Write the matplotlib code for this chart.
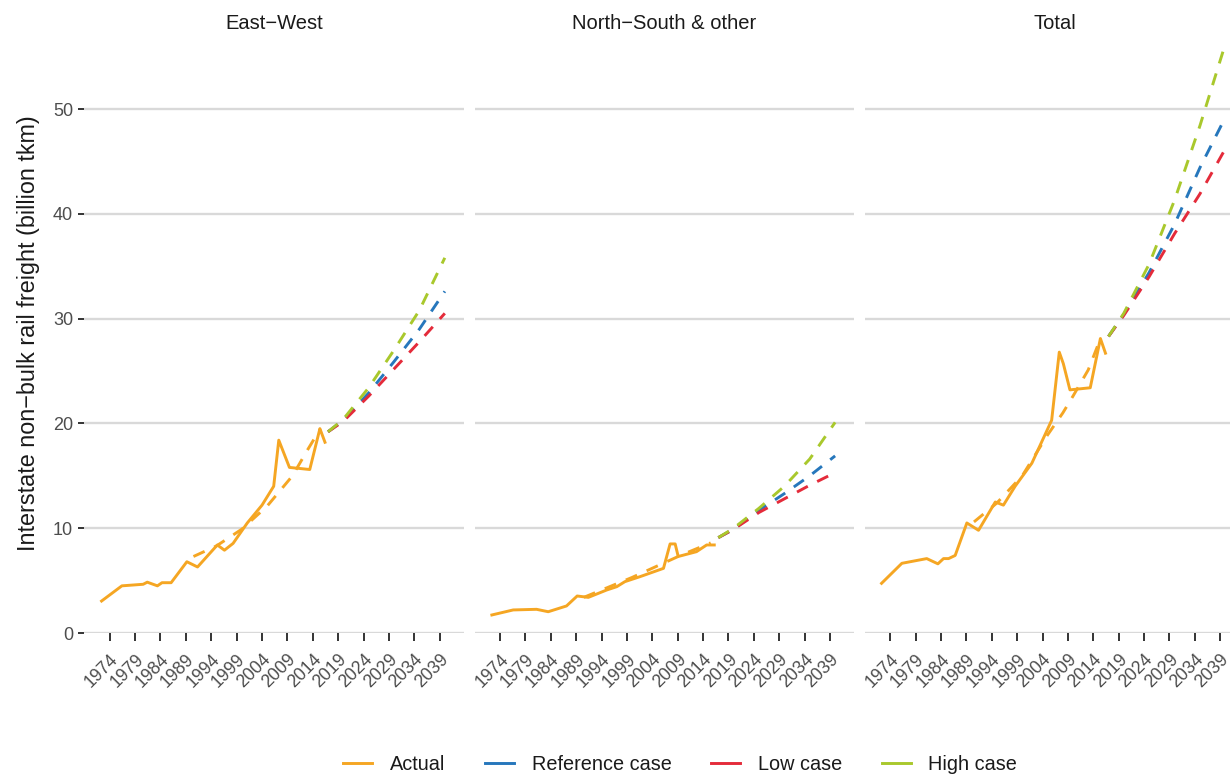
import matplotlib
matplotlib.use("Agg")
import matplotlib.pyplot as plt
from matplotlib.lines import Line2D

plt.rcParams['font.family'] = ['Liberation Sans', 'DejaVu Sans']

panels = ["East\u2212West", "North\u2212South & other", "Total"]
tick_years = list(range(1974, 2040, 5))
y_ticks = [0, 10, 20, 30, 40, 50]

# Recorded interstate non-bulk rail freight (billion tkm)
ew_years = [1972.4, 1976.4, 1980.6, 1981.4, 1983.4, 1984.3, 1986.1, 1989.2, 1991.3, 1995.2,
            1996.6, 1998.3, 2001.1, 2004.0, 2006.3, 2007.3, 2009.4, 2013.4, 2015.4, 2016.4]
ew_actual = [3.05, 4.5, 4.65, 4.85, 4.5, 4.8, 4.8, 6.8, 6.3, 8.4,
             7.9, 8.55, 10.5, 12.2, 14.0, 18.4, 15.8, 15.6, 19.5, 18.2]

ns_years = [1972.4, 1976.6, 1981.2, 1983.5, 1987.1, 1989.2, 1991.4, 1995.0, 1997.0, 1998.6,
            2001.6, 2006.2, 2007.5, 2008.5, 2009.1, 2012.7, 2014.7, 2016.2]
ns_actual = [1.72, 2.2, 2.26, 2.03, 2.58, 3.53, 3.4, 4.1, 4.42, 4.9,
             5.38, 6.17, 8.5, 8.5, 7.3, 7.76, 8.4, 8.4]

tot_years = [1972.3, 1976.3, 1981.2, 1983.4, 1984.5, 1985.5, 1986.8, 1989.1, 1991.4, 1994.7,
             1996.3, 1998.6, 2001.9, 2005.8, 2007.3, 2008.1, 2009.4, 2013.4, 2015.4, 2016.4]
tot_actual = [4.74, 6.65, 7.1, 6.6, 7.1, 7.1, 7.4, 10.5, 9.8, 12.5,
              12.2, 14.0, 16.2, 20.3, 26.8, 25.7, 23.2, 23.4, 28.1, 26.7]

# Fitted trend through the recorded series
ew_trend_years = [1990.5, 1995, 2000, 2005, 2010, 2013, 2015.5]
ew_trend = [7.3, 8.3, 9.9, 12.1, 15.0, 17.5, 19.5]
ns_trend_years = [1990.5, 1995, 2000, 2005, 2010, 2015.5]
ns_trend = [3.4, 4.3, 5.3, 6.4, 7.5, 8.6]
tot_trend_years = [1990.5, 1995, 2000, 2005, 2008, 2010, 2013, 2015.5]
tot_trend = [10.6, 12.4, 15.0, 18.9, 21.0, 22.6, 25.1, 28.2]

# Projections
proj_years = [2017, 2020, 2025, 2030, 2035, 2040]
ew_ref = [19.2, 20.3, 22.9, 25.9, 29.0, 32.6]
ew_low = [19.2, 20.2, 22.6, 25.2, 27.8, 30.5]
ew_high = [19.2, 20.4, 23.4, 27.0, 30.8, 35.8]
ns_ref = [9.1, 9.9, 11.7, 13.3, 15.0, 16.9]
ns_low = [9.1, 9.9, 11.5, 12.8, 14.1, 15.3]
ns_high = [9.1, 10.0, 11.9, 14.0, 16.6, 20.1]
tot_ref = [28.3, 30.4, 34.4, 39.0, 44.4, 49.2]
tot_low = [28.3, 30.3, 34.0, 38.1, 41.9, 46.2]
tot_high = [28.3, 30.5, 35.2, 41.3, 48.4, 56.2]

series = [
    (ew_years, ew_actual, ew_trend_years, ew_trend, ew_ref, ew_low, ew_high),
    (ns_years, ns_actual, ns_trend_years, ns_trend, ns_ref, ns_low, ns_high),
    (tot_years, tot_actual, tot_trend_years, tot_trend, tot_ref, tot_low, tot_high),
]

c_actual = '#F5A623'
c_ref = '#2677BC'
c_low = '#E42B3A'
c_high = '#A9C82C'
grid_c = '#D9D9D9'
text_c = '#4D4D4D'

W, H = 1230, 775
fig = plt.figure(figsize=(W / 100, H / 100), dpi=100)
fig.patch.set_facecolor('white')

panel_left_px = [84.3, 474.6, 864.8]
panel_w_px = 379.3
bottom_px = 633
ymax = 57.2
top_px = bottom_px - ymax * 10.48
lw = 2.1
dash = (4.2, 3.6)

for i, (name, data) in enumerate(zip(panels, series)):
    yrs, act, tyrs, trd, ref, low, high = data
    ax = fig.add_axes([panel_left_px[i] / W, (H - bottom_px) / H,
                       panel_w_px / W, (bottom_px - top_px) / H])
    ax.set_xlim(1969.0, 2043.7)
    ax.set_ylim(0, ymax)
    for s in ax.spines.values():
        s.set_visible(False)
    ax.set_yticks(y_ticks)
    ax.yaxis.grid(True, color=grid_c, lw=1.7)
    ax.xaxis.grid(False)
    ax.set_axisbelow(True)

    ax.plot(tyrs, trd, color=c_actual, lw=lw, ls=(0, dash), solid_capstyle='butt')
    ax.plot(yrs, act, color=c_actual, lw=lw, solid_joinstyle='round')
    ax.plot(proj_years, ref, color=c_ref, lw=lw, ls=(0, dash))
    ax.plot(proj_years, low, color=c_low, lw=lw, ls=(0, dash))
    ax.plot(proj_years, high, color=c_high, lw=lw, ls=(0, dash))

    ax.set_xticks(tick_years)
    ax.set_xticklabels([str(y) for y in tick_years], rotation=45, ha='right',
                       va='top', rotation_mode='anchor', fontsize=12.8, color=text_c)
    ax.tick_params(axis='x', length=5.5, width=1.4, color='#333333', pad=7.5)
    if i == 0:
        ax.tick_params(axis='y', length=4, width=1.4, color='#333333', labelsize=13,
                       labelcolor=text_c, pad=4)
    else:
        ax.tick_params(axis='y', left=False, labelleft=False)
    ax.set_title(name, fontsize=14.5, color='#1A1A1A', pad=3)

fig.text(0.023, 1 - ((bottom_px + top_px) / 2) / H,
         'Interstate non\u2212bulk rail freight (billion tkm)',
         rotation=90, ha='center', va='center', fontsize=16.8, color='#1A1A1A')

handles = [Line2D([], [], color=c, lw=lw) for c in (c_actual, c_ref, c_low, c_high)]
labels = ['Actual', 'Reference case', 'Low case', 'High case']
fig.legend(handles, labels, loc='center', bbox_to_anchor=(0.553, 0.013), ncol=4,
           frameon=False, handlelength=1.45, columnspacing=2.0, handletextpad=0.9,
           fontsize=14.3, labelcolor='#1A1A1A', borderpad=0.2)

fig.savefig('out.png', dpi=100, facecolor='white')
